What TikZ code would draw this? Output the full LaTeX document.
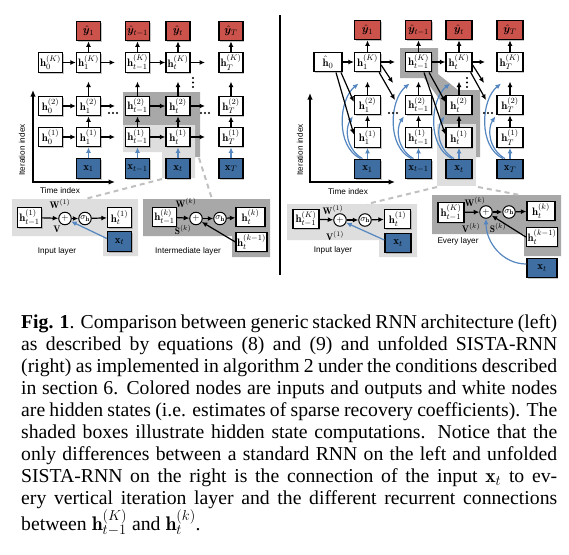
\documentclass[tikz,border=0pt]{standalone}
\usepackage{fontspec}
\usepackage{bm}
\newfontfamily\capfont{Liberation Serif}
\newfontfamily\labfont{Liberation Sans}
\usetikzlibrary{arrows.meta,shadows,calc}
\definecolor{boxred}{RGB}{204,82,76}
\definecolor{boxblue}{RGB}{62,110,162}
\definecolor{arrblue}{RGB}{84,134,192}
\definecolor{lightpanel}{RGB}{222,222,222}
\definecolor{darkpanel}{RGB}{168,168,168}
\definecolor{dashgray}{RGB}{192,192,192}
\begin{document}
\begin{tikzpicture}[x=1pt,y=-1pt,
 hb/.style={draw, line width=1.3pt, fill=white, minimum width=24pt, minimum height=19.5pt, inner sep=0.8pt,
   font=\fontsize{10.8}{12}\selectfont,
   drop shadow={shadow xshift=1.3pt,shadow yshift=-1.3pt,opacity=0.45}},
 rb/.style={hb, minimum width=26pt},
 yb/.style={hb, fill=boxred},
 xb/.style={hb, fill=boxblue},
 ryb/.style={rb, fill=boxred},
 rxb/.style={rb, fill=boxblue},
 arr/.style={-{Latex[length=5.5pt,width=5pt]}, line width=1.2pt},
 barr/.style={arr, arrblue},
 axis/.style={{Latex[length=6.5pt,width=5.5pt]}-{Latex[length=6.5pt,width=5.5pt]}, line width=1.3pt},
 opc/.style={circle, draw, line width=1pt, fill=white, minimum size=12.5pt, inner sep=0pt, font=\fontsize{9.5}{10}\selectfont},
 lab/.style={font=\labfont\fontsize{8.2}{10}\selectfont, inner sep=0pt},
 dsh/.style={dashgray, line width=2pt, dash pattern=on 5pt off 4pt},
 wl/.style={inner sep=0pt, font=\fontsize{9.5}{10}\selectfont}
]
\useasboundingbox (0,0) rectangle (569,554);

% ---------------- left shading ----------------
\fill[darkpanel] (123,92) -- (200,92) -- (200,157) -- (162,157) -- (162,125) -- (123,125) -- cycle;
\fill[lightpanel] (123,125) -- (195,125) -- (195,178) -- (162,178) -- (162,152) -- (123,152) -- cycle;
\fill[lightpanel] (12,199) -- (138,199) -- (138,256) -- (103,256) -- (103,236) -- (12,236) -- cycle;
\fill[darkpanel] (143,199) -- (270,199) -- (270,257) -- (232,257) -- (232,236) -- (143,236) -- cycle;
\coordinate (ld1a) at (162,179); \coordinate (ld1b) at (85,199);
\coordinate (ld2a) at (199,158); \coordinate (ld2b) at (212,199);
\draw[dsh] (ld1a) -- (ld1b);
\draw[dsh] (ld2a) -- (ld2b);

% ---------------- left nodes ----------------
\node[yb] (ly1) at (88.5,31) {$\hat{\bm y}_1$};
\node[yb] (lya) at (137.5,31) {$\hat{\bm y}_{t-1}$};
\node[yb] (lyb) at (178,31) {$\hat{\bm y}_{t}$};
\node[yb] (lyT) at (231,31) {$\hat{\bm y}_{T}$};

\node[hb] (lK0) at (50.5,62.5) {$\mathbf{h}_0^{(K)}$};
\node[hb] (lK1) at (88.5,62.5) {$\mathbf{h}_1^{(K)}$};
\node[hb] (lKa) at (137.5,62.5) {$\mathbf{h}_{t-1}^{(K)}$};
\node[hb] (lKb) at (178,62.5) {$\mathbf{h}_{t}^{(K)}$};
\node[hb] (lKT) at (231,62.5) {$\mathbf{h}_{T}^{(K)}$};

\node[hb] (l20) at (50.5,106) {$\mathbf{h}_0^{(2)}$};
\node[hb] (l21) at (88.5,106) {$\mathbf{h}_1^{(2)}$};
\node[hb] (l2a) at (137.5,106) {$\mathbf{h}_{t-1}^{(2)}$};
\node[hb] (l2b) at (178,106) {$\mathbf{h}_{t}^{(2)}$};
\node[hb] (l2T) at (231,106) {$\mathbf{h}_{T}^{(2)}$};

\node[hb] (l10) at (50.5,137) {$\mathbf{h}_0^{(1)}$};
\node[hb] (l11) at (88.5,137) {$\mathbf{h}_1^{(1)}$};
\node[hb] (l1a) at (137.5,137) {$\mathbf{h}_{t-1}^{(1)}$};
\node[hb] (l1b) at (178,137) {$\mathbf{h}_{t}^{(1)}$};
\node[hb] (l1T) at (231,137) {$\mathbf{h}_{T}^{(1)}$};

\node[xb] (lx1) at (88.5,168.5) {$\mathbf{x}_1$};
\node[xb] (lxa) at (137.5,168.5) {$\mathbf{x}_{t-1}$};
\node[xb] (lxb) at (178,168.5) {$\mathbf{x}_{t}$};
\node[xb] (lxT) at (231,168.5) {$\mathbf{x}_{T}$};

% horizontal arrows
\foreach \r/\y in {K/62.5,2/106,1/137}{
  \coordinate (lo\r a) at (115,\y);
  \coordinate (lo\r b) at (205,\y);
  \draw[arr] (l\r0) -- (l\r1);
  \draw[arr] (l\r1) -- (lo\r a);
  \draw[arr] (l\r a) -- (l\r b);
  \draw[arr] (l\r b) -- (lo\r b);
}
% vertical arrows
\foreach \c in {1,a,b,T}{
  \draw[barr] (lx\c) -- (l1\c);
  \draw[arr] (l1\c) -- (l2\c);
  \draw[arr] (l2\c.north) -- ++(0,-14);
  \draw[arr] (lK\c) -- (ly\c);
}
% dots
\foreach \x in {109,113,117,201,205,209} \fill (\x,113) circle (1.2);
\foreach \y in {78,82.5,87} \fill (193,\y) circle (1.2);

% axes
\coordinate (lax1) at (33,90); \coordinate (lax2) at (115,182);
\draw[axis] (lax1) |- (lax2);
\node[lab] at (60,191) {Time index};
\node[lab, rotate=90] at (22,150) {Iteration index};

% input layer panel
\node[hb] (ia) at (29.5,217.5) {$\mathbf{h}_{t-1}^{(1)}$};
\node[opc] (ip) at (65,218.5) {$+$};
\node[opc] (is) at (85,218.5) {$\sigma_{\mathbf h}$};
\node[hb] (ib) at (119.5,217.5) {$\mathbf{h}_t^{(1)}$};
\node[xb] (ix) at (119.5,241.5) {$\mathbf{x}_t$};
\draw[arr] (ia) -- (ip);
\draw[arr] (ip) -- (is);
\draw[arr] (is) -- (ib);
\draw[barr] ([yshift=3pt]ix.west) -- (ip);
\node[wl] at (60,204) {$\mathbf{W}^{(1)}$};
\node[wl] at (57,229) {$\mathbf{V}$};
\node[lab] at (57,251) {Input layer};

% intermediate layer panel
\node[hb] (ma) at (164.5,217) {$\mathbf{h}_{t-1}^{(k)}$};
\node[opc] (mp) at (196,218.5) {$+$};
\node[opc] (ms) at (220,218.5) {$\sigma_{\mathbf h}$};
\node[hb, minimum width=29pt] (mb) at (250.5,217) {$\mathbf{h}_t^{(k)}$};
\node[hb, minimum width=31pt] (mc) at (251.5,242) {$\mathbf{h}_t^{(k-1)}$};
\draw[arr] (ma) -- (mp);
\draw[arr] (mp) -- (ms);
\draw[arr] (ms) -- (mb);
\draw[arr] (mc.west) -- (mp);
\node[wl] at (186,203) {$\mathbf{W}^{(k)}$};
\node[wl] at (183,230) {$\mathbf{S}^{(k)}$};
\node[lab] at (188,251) {Intermediate layer};

% divider
\coordinate (dv1) at (280,15); \coordinate (dv2) at (280,275);
\draw[line width=1.2pt] (dv1) -- (dv2);

% ---------------- right shading ----------------
\fill[darkpanel] (400,48) -- (438,48) -- (438,74) -- (458,90) -- (480,90) -- (480,157) -- (440,157) -- (440,100) -- (424,78) -- (400,78) -- cycle;
\fill[lightpanel] (437,124) -- (476,124) -- (476,186) -- (437,186) -- cycle;
\fill[lightpanel] (287,204) -- (417,204) -- (417,257) -- (379,257) -- (379,240) -- (287,240) -- cycle;
\fill[darkpanel] (432,195) -- (561,195) -- (561,256) -- (524,256) -- (524,234) -- (432,234) -- cycle;
\coordinate (rd1a) at (437,187); \coordinate (rd1b) at (367,204);
\coordinate (rd2a) at (478,187); \coordinate (rd2b) at (520,195);
\draw[dsh] (rd1a) -- (rd1b);
\draw[dsh] (rd2a) -- (rd2b);

% ---------------- right nodes ----------------
\node[ryb] (ry1) at (367.5,30) {$\hat{\bm y}_1$};
\node[ryb] (rya) at (418.5,30) {$\hat{\bm y}_{t-1}$};
\node[ryb] (ryb) at (459,30) {$\hat{\bm y}_{t}$};
\node[ryb] (ryT) at (510,30) {$\hat{\bm y}_{T}$};

\node[rb, minimum width=28pt] (rK0) at (328,62) {$\hat{\mathbf{h}}_0$};
\node[rb] (rK1) at (367.5,62) {$\mathbf{h}_1^{(K)}$};
\node[rb] (rKa) at (418.5,62) {$\mathbf{h}_{t-1}^{(K)}$};
\node[rb] (rKb) at (459,62) {$\mathbf{h}_{t}^{(K)}$};
\node[rb] (rKT) at (510,62) {$\mathbf{h}_{T}^{(K)}$};

\node[rb] (r21) at (367.5,105) {$\mathbf{h}_1^{(2)}$};
\node[rb] (r2a) at (418.5,105) {$\mathbf{h}_{t-1}^{(2)}$};
\node[rb] (r2b) at (459,105) {$\mathbf{h}_{t}^{(2)}$};
\node[rb] (r2T) at (510,105) {$\mathbf{h}_{T}^{(2)}$};

\node[rb] (r11) at (367.5,137.5) {$\mathbf{h}_1^{(1)}$};
\node[rb] (r1a) at (418.5,137.5) {$\mathbf{h}_{t-1}^{(1)}$};
\node[rb] (r1b) at (459,137.5) {$\mathbf{h}_{t}^{(1)}$};
\node[rb] (r1T) at (510,137.5) {$\mathbf{h}_{T}^{(1)}$};

\node[rxb] (rx1) at (367.5,169) {$\mathbf{x}_1$};
\node[rxb] (rxa) at (418.5,169) {$\mathbf{x}_{t-1}$};
\node[rxb] (rxb) at (459,169) {$\mathbf{x}_{t}$};
\node[rxb] (rxT) at (510,169) {$\mathbf{x}_{T}$};

\coordinate (roa) at (395,62); \coordinate (rob) at (485,62);
\draw[arr] (rK0) -- (rK1);
\draw[arr] (rK1) -- (roa);
\draw[arr] (rKa) -- (rKb);
\draw[arr] (rKb) -- (rob);

\foreach \c in {1,a,b,T}{
  \draw[barr] (rx\c) -- (r1\c);
  \draw[arr] (r1\c) -- (r2\c);
  \draw[arr] (r2\c.north) -- ++(0,-13);
  \draw[arr] (rK\c) -- (ry\c);
}
% blue curves
\foreach \c in {1,a,b,T}{
  \coordinate (bs\c) at ($(rx\c.north)+(-5,0)$);
  \coordinate (bt\c) at ($(rx\c.north)+(-7,0)$);
  \coordinate (be\c) at ($(r2\c.south west)+(-1,1)$);
  \coordinate (bf\c) at ($(r2\c.north)+(-9,-11)$);
  \draw[barr] (bs\c) .. controls ($(bs\c)+(-17,-10)$) and ($(be\c)+(-8,12)$) .. (be\c);
  \draw[barr] (bt\c) .. controls ($(bt\c)+(-25,-12)$) and ($(bf\c)+(-20,16)$) .. (bf\c);
}
% black diagonals
\coordinate (h0a) at (336,72.5); \coordinate (h0b) at (341,72.5);
\draw[arr] (h0a) -- ([yshift=3pt]r11.west);
\draw[arr] (h0b) -- ([yshift=3pt]r21.west);
\coordinate (hka) at (424,72.5); \coordinate (hkb) at (429,72.5);
\draw[arr] (hka) -- ([yshift=3pt]r1b.west);
\draw[arr] (hkb) -- ([yshift=3pt]r2b.west);
\coordinate (e1a) at (393,83); \coordinate (e1b) at (395,100);
\draw[arr] ([yshift=-3pt]rK1.east) -- (e1a);
\draw[arr] ([xshift=-2pt]rK1.south east) -- (e1b);
\coordinate (e2a) at (484,83); \coordinate (e2b) at (486,100);
\draw[arr] ([yshift=-3pt]rKb.east) -- (e2a);
\draw[arr] ([xshift=-2pt]rKb.south east) -- (e2b);

\foreach \x in {389,393,397,484,488,492} \fill (\x,113) circle (1.2);
\foreach \y in {78,82.5,87} \fill (467,\y) circle (1.2);

\coordinate (rax1) at (310,93); \coordinate (rax2) at (395,182);
\draw[axis] (rax1) |- (rax2);
\node[lab] at (348,192) {Time index};
\node[lab, rotate=90] at (300,150) {Iteration index};

% right input layer
\node[rb] (pa) at (306,219) {$\mathbf{h}_{t-1}^{(K)}$};
\node[opc] (pp) at (340,220) {$+$};
\node[opc] (ps) at (365,220) {$\sigma_{\mathbf h}$};
\node[rb] (pb) at (397.5,219) {$\mathbf{h}_t^{(1)}$};
\node[rxb] (px) at (398,243) {$\mathbf{x}_t$};
\draw[arr] (pa) -- (pp);
\draw[arr] (pp) -- (ps);
\draw[arr] (ps) -- (pb);
\draw[barr] ([yshift=3pt]px.west) -- (pp);
\node[wl] at (333,210) {$\mathbf{W}^{(1)}$};
\node[wl] at (335,236) {$\mathbf{V}^{(1)}$};
\node[lab] at (333,250) {Input layer};

% every layer
\node[rb] (ea) at (451,212.5) {$\mathbf{h}_{t-1}^{(K)}$};
\node[opc] (ep) at (486,212) {$+$};
\node[opc] (es) at (509,212) {$\sigma_{\mathbf h}$};
\node[rb, minimum width=28pt] (eb) at (541,211) {$\mathbf{h}_t^{(k)}$};
\node[rb, minimum width=31pt] (ec) at (542,237) {$\mathbf{h}_t^{(k-1)}$};
\node[rxb, minimum width=30pt] (ex) at (542,268) {$\mathbf{x}_t$};
\draw[arr] (ea) -- (ep);
\draw[arr] (ep) -- (es);
\draw[arr] (es) -- (eb);
\draw[arr] (ec.west) -- (ep);
\draw[barr] ([yshift=4pt]ex.west) to[out=180,in=-90] (ep.south);
\node[wl] at (475,202) {$\mathbf{W}^{(k)}$};
\node[wl] at (471,228) {$\mathbf{V}^{(k)}$};
\node[wl] at (498,228) {$\mathbf{S}^{(k)}$};
\node[lab] at (458,241) {Every layer};

% ---------------- caption ----------------
\node[anchor=north west, inner sep=0pt, text width=536pt, align=justify,
      font=\capfont\fontsize{19.7}{22}\selectfont] (cap) at (21,314)
{\textbf{Fig. 1}. Comparison between generic stacked RNN architecture (left)\linebreak
as described by equations (8) and (9) and unfolded SISTA-RNN\linebreak
(right) as implemented in algorithm 2 under the conditions described\linebreak
in section 6. Colored nodes are inputs and outputs and white nodes\linebreak
are hidden states (i.e. estimates of sparse recovery coefficients). The\linebreak
shaded boxes illustrate hidden state computations. Notice that the\linebreak
only differences between a standard RNN on the left and unfolded\linebreak
SISTA-RNN on the right is the connection of the input $\mathbf{x}_t$ to ev-\linebreak
ery vertical iteration layer and the different recurrent connections\linebreak
between $\mathbf{h}^{(K)}_{t-1}$ and $\mathbf{h}^{(k)}_t$.};
\end{tikzpicture}
\end{document}
